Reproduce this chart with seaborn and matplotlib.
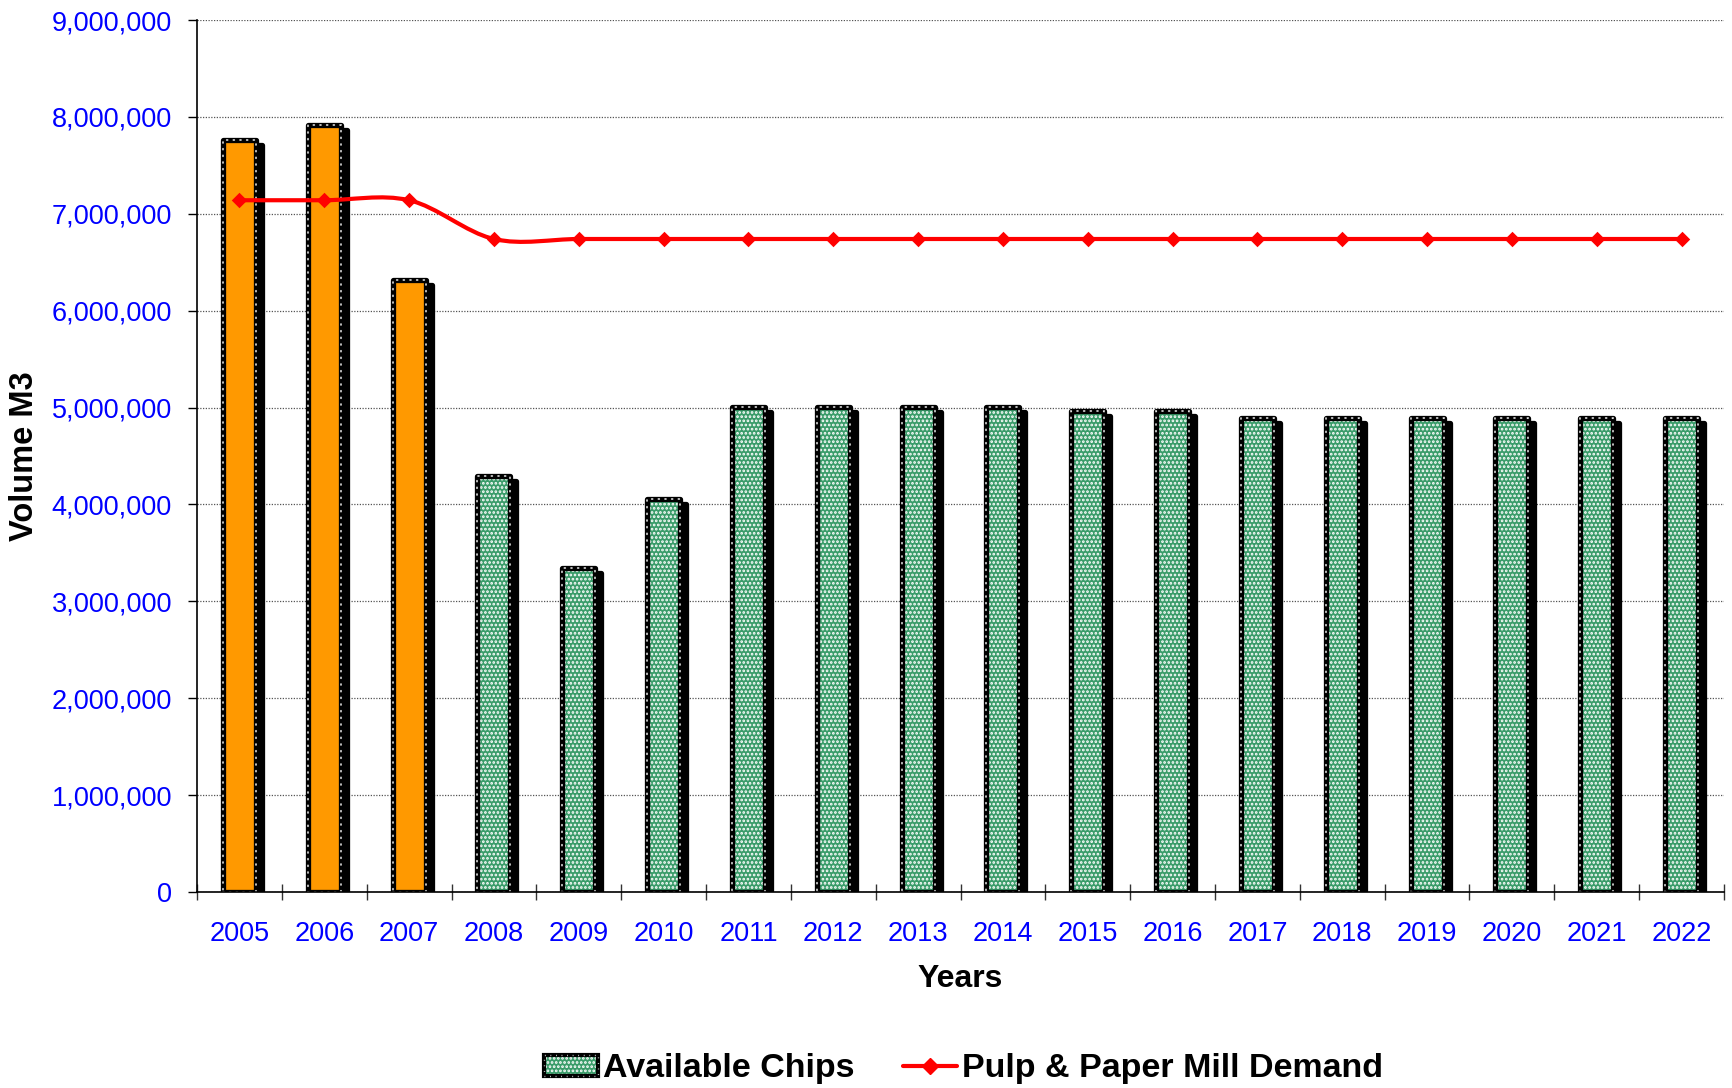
import numpy as np
import pandas as pd
import matplotlib
matplotlib.use("Agg")
import matplotlib.pyplot as plt
import matplotlib.transforms as mtransforms
import seaborn as sns
from matplotlib.patches import Rectangle, PathPatch, Patch
from matplotlib.path import Path
from matplotlib.lines import Line2D
from matplotlib.legend_handler import HandlerTuple
from matplotlib.ticker import FuncFormatter, MultipleLocator, FixedLocator

# ---- data -------------------------------------------------------------
years = ["2005", "2006", "2007", "2008", "2009", "2010", "2011", "2012", "2013",
         "2014", "2015", "2016", "2017", "2018", "2019", "2020", "2021", "2022"]
available_chips = [7760000, 7920000, 6320000, 4290000, 3340000, 4060000,
                   5010000, 5010000, 5010000, 5010000, 4960000, 4960000,
                   4890000, 4890000, 4890000, 4890000, 4890000, 4890000]
mill_demand = [7140000, 7140000, 7140000, 6740000, 6740000, 6740000,
               6740000, 6740000, 6740000, 6740000, 6740000, 6740000,
               6740000, 6740000, 6740000, 6740000, 6740000, 6740000]
historical_years = ["2005", "2006", "2007"]

# ---- styling ----------------------------------------------------------
ORANGE = "#FF9900"
GREEN = "#3A9C6A"
RED = "#FF0000"
BORDER_LW = 3.8
DOT_LW = 1.2
DOT_STYLE = (0, (0.6, 3.4))

sns.set_theme(style="white")
plt.rcParams["font.family"] = ["Liberation Sans", "DejaVu Sans"]
plt.rcParams["text.color"] = "black"
plt.rcParams["axes.labelcolor"] = "black"
plt.rcParams["hatch.linewidth"] = 1.3

bar_colors = [ORANGE if y in historical_years else GREEN for y in years]

fig = plt.figure(figsize=(17.33, 10.88), dpi=100)
ax = fig.add_axes([0.1137, 0.1801, 0.8811, 0.8015])

df = pd.DataFrame({"Year": years, "Chips": available_chips})
sns.barplot(data=df, x="Year", y="Chips", hue="Year", palette=bar_colors,
            saturation=1, dodge=False, legend=False, width=0.39,
            errorbar=None, linewidth=0, edgecolor="white", zorder=3, ax=ax)

# drop shadow, dotted black frame and dotted fill for each bar
shadow_offset = mtransforms.ScaledTranslation(0.06, -0.05, fig.dpi_scale_trans)
bars = list(ax.patches)
for bar, year in zip(bars, years):
    x, y = bar.get_x(), bar.get_y()
    w, h = bar.get_width(), bar.get_height()
    if year not in historical_years:
        bar.set_hatch("....")
    ax.add_patch(Rectangle((x, y), w, h, transform=ax.transData + shadow_offset,
                           facecolor="black", edgecolor="black",
                           linewidth=BORDER_LW, joinstyle="round", zorder=2))
    ax.add_patch(Rectangle((x, y), w, h, fill=False, edgecolor="black",
                           linewidth=BORDER_LW, joinstyle="round", zorder=4))
    ax.add_patch(Rectangle((x, y), w, h, fill=False, edgecolor="#DDDDDD",
                           linewidth=DOT_LW, linestyle=DOT_STYLE,
                           capstyle="round", zorder=5))

# smoothed demand line (cubic Bezier through each yearly value)
pts = np.column_stack([np.arange(len(years), dtype=float),
                       np.asarray(mill_demand, dtype=float)])
verts = [pts[0]]
codes = [Path.MOVETO]
n = len(pts)
for i in range(n - 1):
    p0 = pts[max(i - 1, 0)]
    p1 = pts[i]
    p2 = pts[i + 1]
    p3 = pts[min(i + 2, n - 1)]
    verts += [p1 + (p2 - p0) / 6.0, p2 - (p3 - p1) / 6.0, p2]
    codes += [Path.CURVE4] * 3
ax.add_patch(PathPatch(Path(verts, codes), fill=False, edgecolor=RED,
                       linewidth=3.0, capstyle="round", joinstyle="round",
                       zorder=6))
sns.scatterplot(x=years, y=mill_demand, marker="D", s=62, color=RED,
                edgecolor=RED, linewidth=0, zorder=7, legend=False, ax=ax)

# ---- axes -------------------------------------------------------------
ax.set_xlim(-0.5, len(years) - 0.5)
ax.set_ylim(0, 9000000)
ax.yaxis.set_major_locator(MultipleLocator(1000000))
ax.yaxis.set_major_formatter(FuncFormatter(lambda v, p: f"{int(round(v)):,}"))
ax.xaxis.set_minor_locator(FixedLocator(np.arange(-0.5, len(years), 1.0)))

ax.yaxis.grid(True, linestyle=(0, (1, 1.2)), color="#555555", linewidth=0.9)
ax.xaxis.grid(False)
ax.set_axisbelow(True)

for side in ("top", "right"):
    ax.spines[side].set_visible(False)
for side in ("left", "bottom"):
    ax.spines[side].set_color("black")
    ax.spines[side].set_linewidth(1.2)
    ax.spines[side].set_zorder(8)

ax.tick_params(axis="y", which="major", left=True, direction="out", length=6.5,
               width=1.0, color="black", labelsize=19.5, labelcolor="#0000FF",
               pad=11.5)
ax.tick_params(axis="x", which="major", bottom=True, length=0,
               labelsize=19.5, labelcolor="#0000FF", pad=21)
ax.tick_params(axis="x", which="minor", bottom=True, direction="inout",
               length=12, width=1.0, color="#333333")

ax.set_xlabel("Years", fontsize=23, fontweight="bold", color="black")
ax.set_ylabel("Volume M3", fontsize=23.5, fontweight="bold", color="black")
ax.xaxis.set_label_coords(0.5, -0.083)
ax.yaxis.set_label_coords(-0.1028, 0.5)

# ---- legend -----------------------------------------------------------
chips_handle = (
    Patch(facecolor=GREEN, edgecolor="white", hatch="....", linewidth=0),
    Patch(fill=False, edgecolor="black", linewidth=3.0),
    Patch(fill=False, edgecolor="#DDDDDD", linewidth=1.0, linestyle=DOT_STYLE),
)
demand_handle = Line2D([], [], color=RED, linewidth=3.0, marker="D",
                       markersize=8)
fig.legend([chips_handle, demand_handle],
           ["Available Chips", "Pulp & Paper Mill Demand"],
           handler_map={tuple: HandlerTuple(ndivide=1, pad=0)},
           loc="center", bbox_to_anchor=(0.556, 0.0175), ncol=2,
           frameon=False, prop=dict(weight="bold", size=24.5),
           handlelength=1.6, handleheight=0.6, handletextpad=0.15,
           columnspacing=1.4, borderpad=0.0)

fig.savefig("out.png", dpi=100)
